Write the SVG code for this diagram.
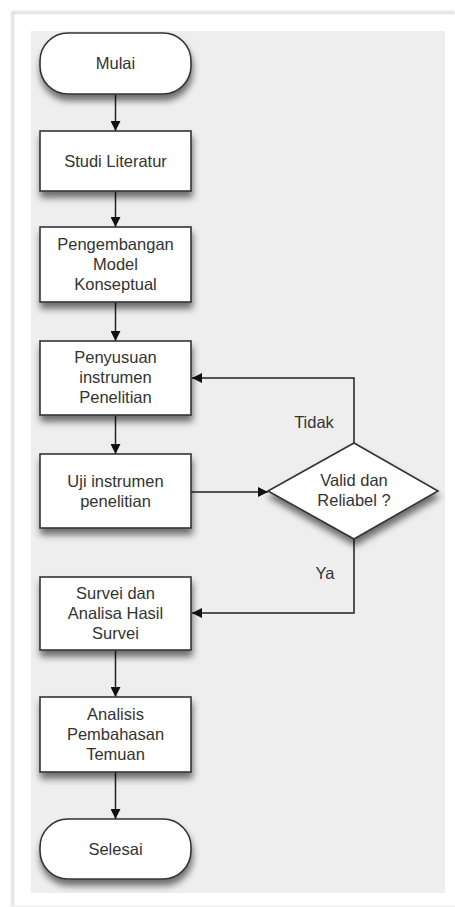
<svg xmlns="http://www.w3.org/2000/svg" width="455" height="907" viewBox="0 0 455 907">
  <defs>
    <filter id="shadow" x="-20%" y="-20%" width="140%" height="150%">
      <feGaussianBlur in="SourceAlpha" stdDeviation="3.5"/>
      <feOffset dx="1" dy="6" result="blur"/>
      <feComponentTransfer><feFuncA type="linear" slope="0.55"/></feComponentTransfer>
      <feMerge><feMergeNode/><feMergeNode in="SourceGraphic"/></feMerge>
    </filter>
    <filter id="frameShadow" x="-5%" y="-5%" width="110%" height="110%">
      <feGaussianBlur stdDeviation="1"/>
    </filter>
    <marker id="arrow" viewBox="0 0 10 10" refX="10" refY="5" markerWidth="10" markerHeight="10" markerUnits="userSpaceOnUse" orient="auto">
      <path d="M0,0 L10,5 L0,10 Z" fill="#111"/>
    </marker>
  </defs>
  <style>
    .shape { fill: #ffffff; stroke: #333333; stroke-width: 1.6; filter: url(#shadow); }
    .label { font-family: "Liberation Sans", Arial, sans-serif; font-size: 16.5px; fill: #333333; text-anchor: middle; }
    .edge { fill: none; stroke: #222222; stroke-width: 1.5; marker-end: url(#arrow); }
  </style>

  <!-- page frame and drawing area -->
  <rect x="0" y="0" width="455" height="907" fill="#ffffff"/>
  <path d="M12.5,906 L12.5,12.5 L455,12.5" fill="none" stroke="#cfcfcf" stroke-width="2" filter="url(#frameShadow)"/>
  <line x1="12" y1="906" x2="455" y2="906" stroke="#eeeeee" stroke-width="1.5"/>
  <rect x="31" y="31" width="414" height="862" fill="#eeeeee"/>

  <!-- connectors -->
  <g id="connectors">
    <line class="edge" x1="115.5" y1="94" x2="115.5" y2="131"/>
    <line class="edge" x1="115.5" y1="191" x2="115.5" y2="227"/>
    <line class="edge" x1="115.5" y1="302" x2="115.5" y2="341"/>
    <line class="edge" x1="115.5" y1="415" x2="115.5" y2="454"/>
    <line class="edge" x1="191" y1="492" x2="268" y2="492"/>
    <polyline class="edge" points="354,443 354,378 192,378"/>
    <polyline class="edge" points="354,539 354,613 192,613"/>
    <line class="edge" x1="115.5" y1="650" x2="115.5" y2="697"/>
    <line class="edge" x1="115.5" y1="772" x2="115.5" y2="819"/>
    <text class="label" x="314" y="428">Tidak</text>
    <text class="label" x="325" y="579">Ya</text>
  </g>

  <g id="mulai">
    <rect class="shape" x="40" y="33" width="151" height="61" rx="28" ry="28"/>
    <text class="label" x="115.5" y="69">Mulai</text>
  </g>

  <g id="studi-literatur">
    <rect class="shape" x="40" y="131" width="151" height="60"/>
    <text class="label" x="115.5" y="167">Studi Literatur</text>
  </g>

  <g id="pengembangan-model">
    <rect class="shape" x="40" y="227" width="151" height="75"/>
    <text class="label" x="115.5" y="250">Pengembangan</text>
    <text class="label" x="115.5" y="270">Model</text>
    <text class="label" x="115.5" y="290">Konseptual</text>
  </g>

  <g id="penyusuan-instrumen">
    <rect class="shape" x="40" y="341" width="151" height="74"/>
    <text class="label" x="115.5" y="363">Penyusuan</text>
    <text class="label" x="115.5" y="383">instrumen</text>
    <text class="label" x="115.5" y="403">Penelitian</text>
  </g>

  <g id="uji-instrumen">
    <rect class="shape" x="40" y="454" width="151" height="74"/>
    <text class="label" x="115.5" y="487">Uji instrumen</text>
    <text class="label" x="115.5" y="507">penelitian</text>
  </g>

  <g id="valid-reliabel">
    <polygon class="shape" points="354,443 438,491 354,539 268,491"/>
    <text class="label" x="354" y="486">Valid dan</text>
    <text class="label" x="354" y="506">Reliabel ?</text>
  </g>

  <g id="survei-analisa">
    <rect class="shape" x="40" y="577" width="151" height="73"/>
    <text class="label" x="115.5" y="599">Survei dan</text>
    <text class="label" x="115.5" y="619">Analisa Hasil</text>
    <text class="label" x="115.5" y="639">Survei</text>
  </g>

  <g id="analisis-pembahasan">
    <rect class="shape" x="40" y="697" width="151" height="75"/>
    <text class="label" x="115.5" y="720">Analisis</text>
    <text class="label" x="115.5" y="740">Pembahasan</text>
    <text class="label" x="115.5" y="760">Temuan</text>
  </g>

  <g id="selesai">
    <rect class="shape" x="40" y="819" width="151" height="60" rx="28" ry="28"/>
    <text class="label" x="115.5" y="855">Selesai</text>
  </g>
</svg>
